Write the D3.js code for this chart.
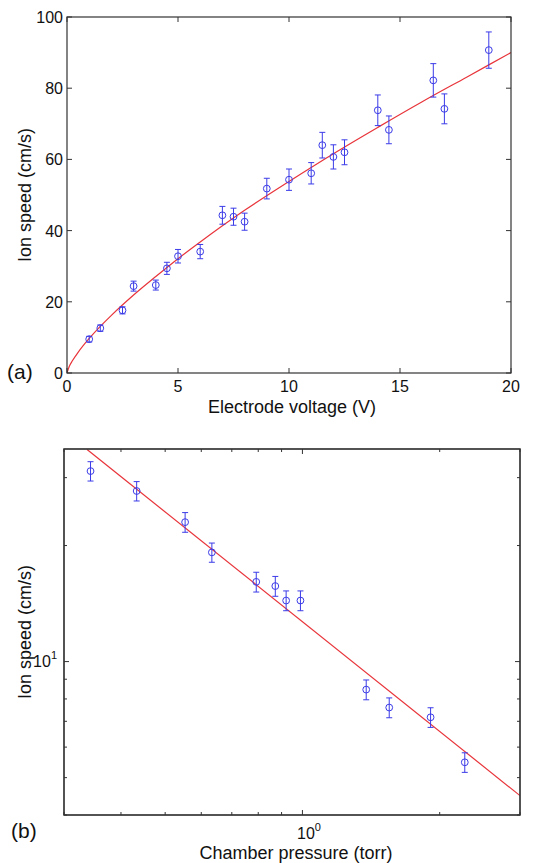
<!DOCTYPE html>
<html>
<head>
<meta charset="utf-8">
<script src="https://cdn.jsdelivr.net/npm/d3@7"></script>
<style>
  body { margin: 0; background: #fff; }
  svg text { font-family: "Liberation Sans", Arial, sans-serif; fill: #111; }
</style>
</head>
<body>
<svg id="chart" width="533" height="863"></svg>
<script>
// ---- data, panel (a): ion speed vs electrode voltage ----
var voltage = [1, 1.5, 2.5, 3, 4, 4.5, 5, 6, 7, 7.5, 8, 9, 10, 11, 11.5, 12, 12.5, 14, 14.5, 16.5, 17, 19];
var speedA = [9.5, 12.6, 17.6, 24.4, 24.7, 29.4, 32.8, 34.1, 44.3, 43.9, 42.5, 51.8, 54.3, 56.1, 64.0, 60.7, 62.0, 73.8, 68.3, 82.2, 74.2, 90.7];
var errA = [0.8, 0.9, 1.0, 1.4, 1.4, 1.7, 1.9, 2.0, 2.5, 2.4, 2.4, 2.9, 3.0, 3.0, 3.6, 3.4, 3.5, 4.3, 3.9, 4.7, 4.2, 5.1];
// fitted curve
var fitVoltage = [0, 0.1, 0.25, 0.5, 1, 1.5, 2, 3, 4, 5, 6, 8, 10, 12, 14, 16, 18, 20];
var fitSpeedA = [0, 1.8, 3.5, 5.8, 9.7, 13.1, 16.2, 21.9, 27.1, 32.1, 36.8, 45.7, 53.8, 61.6, 69.0, 76.2, 83.1, 90.0];
var xTicksA = [0, 5, 10, 15, 20];
var yTicksA = [0, 20, 40, 60, 80, 100];

// ---- data, panel (b): ion speed vs chamber pressure (log-log) ----
var pressure = [0.343, 0.433, 0.553, 0.633, 0.792, 0.872, 0.921, 0.99, 1.38, 1.55, 1.91, 2.27];
var speedB = [31.2, 27.7, 23.0, 19.2, 16.1, 15.7, 14.4, 14.4, 8.46, 7.6, 7.17, 5.48];
var errB = [1.8, 1.6, 1.35, 1.1, 0.95, 0.93, 0.85, 0.85, 0.5, 0.45, 0.42, 0.32];
var fitPressure = [0.337, 3];
var fitSpeedB = [35.5, 4.49];
var xMinorB = [0.3, 0.4, 0.5, 0.6, 0.7, 0.8, 0.9, 2, 3];
var yMinorB = [4, 5, 6, 7, 8, 9, 20, 30];

var blue = '#3b3be8', red = '#e8343a', axisColor = '#333';
var svg = d3.select('#chart');

// Draw a boxed axis frame with ticks on all four sides
function frame(g, x, y, xt, yt, len) {
	var x0 = x.range()[0], x1 = x.range()[1];
	var y0 = y.range()[0], y1 = y.range()[1];
	xt.forEach(function(t) {
		g.append('line').attr('x1', x(t)).attr('x2', x(t)).attr('y1', y0).attr('y2', y0 - len)
			.attr('stroke', axisColor);
		g.append('line').attr('x1', x(t)).attr('x2', x(t)).attr('y1', y1).attr('y2', y1 + len)
			.attr('stroke', axisColor);
	});
	yt.forEach(function(t) {
		g.append('line').attr('y1', y(t)).attr('y2', y(t)).attr('x1', x0).attr('x2', x0 + len)
			.attr('stroke', axisColor);
		g.append('line').attr('y1', y(t)).attr('y2', y(t)).attr('x1', x1).attr('x2', x1 - len)
			.attr('stroke', axisColor);
	});
	g.append('rect').attr('x', x0).attr('y', y1).attr('width', x1 - x0).attr('height', y0 - y1)
		.attr('fill', 'none').attr('stroke', axisColor).attr('stroke-width', 1.2);
}

function points(g, x, y, xs, ys, es) {
	var cap = 3;
	xs.forEach(function(v, i) {
		var cx = x(v), lo = y(ys[i] - es[i]), hi = y(ys[i] + es[i]);
		g.append('line').attr('x1', cx).attr('x2', cx).attr('y1', lo).attr('y2', hi).attr('stroke', blue);
		g.append('line').attr('x1', cx - cap).attr('x2', cx + cap).attr('y1', lo).attr('y2', lo).attr('stroke', blue);
		g.append('line').attr('x1', cx - cap).attr('x2', cx + cap).attr('y1', hi).attr('y2', hi).attr('stroke', blue);
		g.append('circle').attr('cx', cx).attr('cy', y(ys[i])).attr('r', 3.4)
			.attr('fill', 'none').attr('stroke', blue).attr('stroke-width', 1);
	});
}

// ---- panel (a) ----
var xA = d3.scaleLinear().domain([0, 20]).range([67, 511]);
var yA = d3.scaleLinear().domain([0, 100]).range([373, 17]);
var gA = svg.append('g');

gA.append('defs').append('clipPath').attr('id', 'clipA')
	.append('rect').attr('x', 67).attr('y', 17).attr('width', 444).attr('height', 356);
gA.append('path')
	.datum(fitVoltage.map(function(v, i) { return [v, fitSpeedA[i]]; }))
	.attr('d', d3.line().x(function(d) { return xA(d[0]); }).y(function(d) { return yA(d[1]); }).curve(d3.curveMonotoneX))
	.attr('fill', 'none').attr('stroke', red).attr('stroke-width', 1.2)
	.attr('clip-path', 'url(#clipA)');
points(gA, xA, yA, voltage, speedA, errA);
frame(gA, xA, yA, xTicksA, yTicksA, 5);

gA.selectAll('.xl').data(xTicksA).enter().append('text')
	.attr('x', function(d) { return xA(d); }).attr('y', 392)
	.attr('text-anchor', 'middle').style('font-size', '16px').text(function(d) { return d; });
gA.selectAll('.yl').data(yTicksA).enter().append('text')
	.attr('x', 63).attr('y', function(d) { return yA(d) + 6; })
	.attr('text-anchor', 'end').style('font-size', '16px').text(function(d) { return d; });
gA.append('text').attr('x', 292).attr('y', 412.5).attr('text-anchor', 'middle')
	.style('font-size', '18px').text('Electrode voltage (V)');
gA.append('text').attr('transform', 'translate(31,195) rotate(-90)').attr('text-anchor', 'middle')
	.style('font-size', '18px').text('Ion speed (cm/s)');
gA.append('text').attr('x', 7).attr('y', 379).style('font-size', '21px').text('(a)');

// ---- panel (b) ----
var xB = d3.scaleLog().domain([0.3, 3]).range([64, 520]);
var yB = d3.scaleLog().domain([4, 35.6]).range([815, 449]);
var gB = svg.append('g');

gB.append('defs').append('clipPath').attr('id', 'clipB')
	.append('rect').attr('x', 64).attr('y', 449).attr('width', 456).attr('height', 366);
gB.append('path')
	.datum(fitPressure.map(function(v, i) { return [v, fitSpeedB[i]]; }))
	.attr('d', d3.line().x(function(d) { return xB(d[0]); }).y(function(d) { return yB(d[1]); }))
	.attr('fill', 'none').attr('stroke', red).attr('stroke-width', 1.2)
	.attr('clip-path', 'url(#clipB)');
points(gB, xB, yB, pressure, speedB, errB);
frame(gB, xB, yB, xMinorB, yMinorB, 3);
frame(gB, xB, yB, [1], [10], 5);

var tx = gB.append('text').attr('x', 297).attr('y', 839).style('font-size', '16px');
tx.append('tspan').text('10');
tx.append('tspan').attr('dy', -8).style('font-size', '11px').text('0');
var ty = gB.append('text').attr('x', 57).attr('y', 667).attr('text-anchor', 'end').style('font-size', '16px');
ty.append('tspan').text('10');
ty.append('tspan').attr('dy', -8).style('font-size', '11px').text('1');
gB.append('text').attr('x', 296).attr('y', 859).attr('text-anchor', 'middle')
	.style('font-size', '18px').text('Chamber pressure (torr)');
gB.append('text').attr('transform', 'translate(31,632) rotate(-90)').attr('text-anchor', 'middle')
	.style('font-size', '18px').text('Ion speed (cm/s)');
gB.append('text').attr('x', 11).attr('y', 838).style('font-size', '21px').text('(b)');
</script>
</body>
</html>
